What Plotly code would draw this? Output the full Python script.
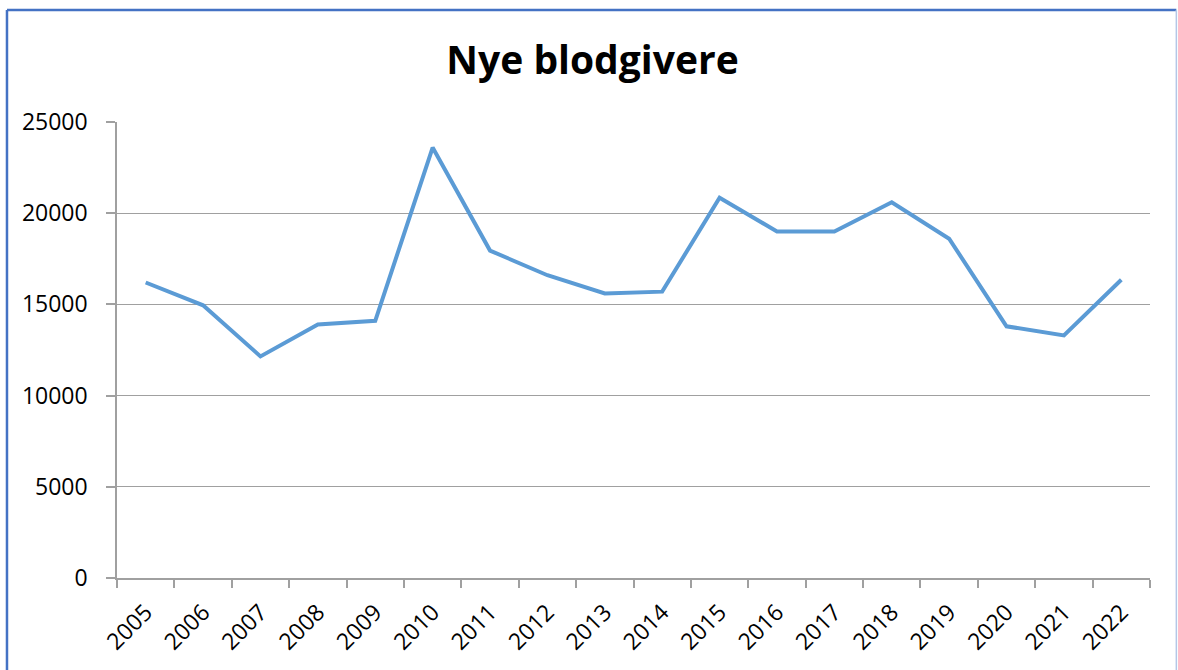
import plotly.graph_objects as go

# Nye blodgivere per år
years = [str(y) for y in range(2005, 2023)]
donors = [16200, 14950, 12150, 13900, 14100, 23600, 17950, 16600, 15600,
          15700, 20850, 19000, 19000, 20600, 18600, 13800, 13300, 16350]

y_ticks = [0, 5000, 10000, 15000, 20000, 25000]
y_labels = [str(v) for v in y_ticks]

grey = "#a0a0a0"
font_name = "Open Sans"

fig = go.Figure(
    go.Scatter(x=years, y=donors, mode="lines",
               line=dict(color="#5B9BD5", width=4))
)

fig.update_layout(
    width=1178, height=670,
    margin=dict(l=117, r=28, t=122, b=92),
    paper_bgcolor="white", plot_bgcolor="white",
    showlegend=False,
    font=dict(family=font_name, size=22, color="black"),
    title=dict(text="<b>Nye blodgivere</b>", x=0.503, xref="container",
               y=0.91, yref="container", yanchor="middle", xanchor="center",
               font=dict(family=font_name, size=39, color="black")),
)

fig.update_xaxes(
    type="category", range=[-0.5, len(years) - 0.5],
    tickson="boundaries", ticks="outside", ticklen=8, tickcolor=grey,
    tickwidth=1.5, tickangle=-45, showline=True, linecolor=grey,
    linewidth=1.5, showgrid=False, tickfont=dict(size=23),
    ticklabelstandoff=10, automargin=False,
)
fig.update_yaxes(
    range=[0, 25000], tickvals=y_ticks, ticktext=y_labels, ticks="outside",
    ticklen=9, tickcolor=grey, tickwidth=1.5, showline=True, linecolor=grey,
    linewidth=1.5, showgrid=True, gridcolor=grey, gridwidth=1.4,
    zeroline=False, tickfont=dict(size=23), ticklabelstandoff=14,
    automargin=False,
)

# chart frame (Excel chart border)
fig.add_shape(type="line", xref="paper", yref="paper",
              x0=-0.1065, x1=-0.1065, y0=1.2456, y1=-0.25,
              line=dict(color="#4472C4", width=2.5))
fig.add_shape(type="line", xref="paper", yref="paper",
              x0=-0.1065, x1=1.0255, y0=1.2456, y1=1.2456,
              line=dict(color="#4472C4", width=2.5))
fig.add_shape(type="line", xref="paper", yref="paper",
              x0=1.0255, x1=1.0255, y0=1.2456, y1=-0.25,
              line=dict(color="#b4c7e7", width=1.5))

fig.write_html("out.html", config={"displayModeBar": False},
               post_script="document.body.style.margin='0';")
